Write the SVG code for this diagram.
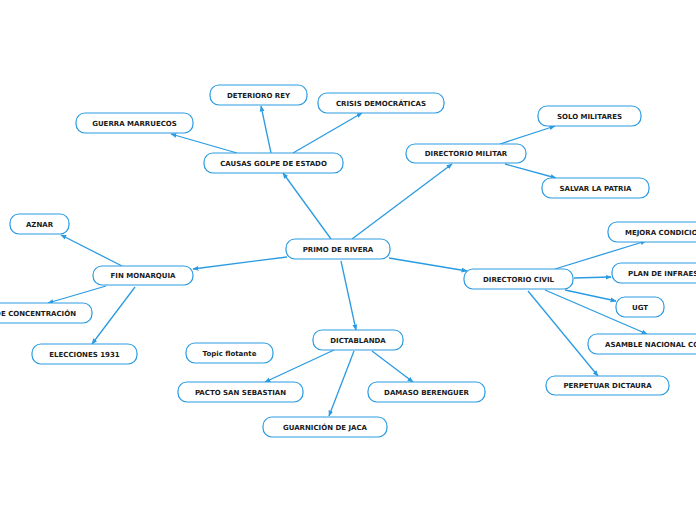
<svg xmlns="http://www.w3.org/2000/svg" width="696" height="520" viewBox="0 0 696 520">
<style>
.n rect{fill:#fff;stroke:#2a9be2;stroke-width:1.2}
.n text{font-family:"DejaVu Sans",Verdana,sans-serif;font-weight:bold;font-size:7px;fill:#1a1a1a;text-anchor:middle}
.c line{stroke:#2a9be2;stroke-width:1.3;marker-end:url(#a)}
</style>
<defs>
<marker id="a" viewBox="0 0 10 10" refX="9" refY="5" markerWidth="6" markerHeight="6" orient="auto" markerUnits="userSpaceOnUse"><path d="M0,1 L10,5 L0,9 z" fill="#2a9be2"/></marker>
</defs>
<rect width="696" height="520" fill="#fff"/>
<g class="c">
<line x1="331" y1="239" x2="283" y2="173"/>
<line x1="352" y1="239" x2="452" y2="164"/>
<line x1="287" y1="257" x2="193" y2="269"/>
<line x1="389" y1="258" x2="467" y2="271"/>
<line x1="341" y1="261" x2="356" y2="330"/>
<line x1="237" y1="153" x2="171" y2="134"/>
<line x1="271" y1="153" x2="261" y2="106"/>
<line x1="293" y1="153" x2="362" y2="113"/>
<line x1="500" y1="144" x2="555" y2="126"/>
<line x1="505" y1="164" x2="556" y2="178"/>
<line x1="555" y1="269" x2="646" y2="241"/>
<line x1="574" y1="278" x2="611" y2="277"/>
<line x1="565" y1="290" x2="616" y2="301"/>
<line x1="545" y1="290" x2="647" y2="334"/>
<line x1="528" y1="291" x2="598" y2="376"/>
<line x1="122" y1="266" x2="61" y2="235"/>
<line x1="106" y1="286" x2="48" y2="303"/>
<line x1="135" y1="287" x2="92" y2="344"/>
<line x1="334" y1="350" x2="265" y2="382"/>
<line x1="354" y1="351" x2="329" y2="416"/>
<line x1="372" y1="351" x2="413" y2="382"/>
</g>
<g id="primo" class="n"><rect x="286" y="239" width="104" height="20" rx="9"/><text x="338" y="251.5">PRIMO DE RIVERA</text></g>
<g id="causas" class="n"><rect x="204" y="153" width="139" height="20" rx="9"/><text x="273.5" y="165.5">CAUSAS GOLPE DE ESTADO</text></g>
<g id="guerra" class="n"><rect x="76" y="113" width="117" height="20" rx="9"/><text x="134.5" y="125.5">GUERRA MARRUECOS</text></g>
<g id="deterioro" class="n"><rect x="210" y="85" width="97" height="20" rx="9"/><text x="258.5" y="97.5">DETERIORO REY</text></g>
<g id="crisis" class="n"><rect x="318" y="93" width="126" height="20" rx="9"/><text x="381" y="105.5">CRISIS DEMOCRÁTICAS</text></g>
<g id="dirmilitar" class="n"><rect x="406" y="144" width="120" height="19" rx="9"/><text x="466" y="156">DIRECTORIO MILITAR</text></g>
<g id="solo" class="n"><rect x="538" y="106" width="103" height="20" rx="9"/><text x="589.5" y="118.5">SOLO MILITARES</text></g>
<g id="salvar" class="n"><rect x="542" y="178" width="107" height="20" rx="9"/><text x="595.5" y="190.5">SALVAR LA PATRIA</text></g>
<g id="dircivil" class="n"><rect x="464" y="269" width="109" height="20" rx="9"/><text x="518.5" y="281.5">DIRECTORIO CIVIL</text></g>
<g id="mejora" class="n"><rect x="608" y="222" width="140" height="20" rx="9"/><text x="625" y="234.5" style="text-anchor:start">MEJORA CONDICIONES LABORALES</text></g>
<g id="plan" class="n"><rect x="612" y="263" width="140" height="20" rx="9"/><text x="628" y="275.5" style="text-anchor:start">PLAN DE INFRAESTRUCTURAS</text></g>
<g id="ugt" class="n"><rect x="616" y="297" width="48" height="20" rx="9"/><text x="640" y="309.5">UGT</text></g>
<g id="asamble" class="n"><rect x="588" y="334" width="160" height="20" rx="9"/><text x="605" y="346.5" style="text-anchor:start">ASAMBLE NACIONAL CONSULTIVA</text></g>
<g id="perpetuar" class="n"><rect x="546" y="376" width="123" height="19" rx="9"/><text x="607.5" y="388">PERPETUAR DICTAURA</text></g>
<g id="aznar" class="n"><rect x="10" y="214" width="59" height="20" rx="9"/><text x="39.5" y="226.5">AZNAR</text></g>
<g id="fin" class="n"><rect x="93" y="266" width="100" height="19" rx="9"/><text x="143" y="278">FIN MONARQUIA</text></g>
<g id="gobierno" class="n"><rect x="-60" y="303" width="152" height="20" rx="9"/><text x="76" y="315.5" style="text-anchor:end">GOBIERNO DE CONCENTRACIÓN</text></g>
<g id="elecciones" class="n"><rect x="32" y="344" width="105" height="20" rx="9"/><text x="84.5" y="356.5">ELECCIONES 1931</text></g>
<g id="dictablanda" class="n"><rect x="313" y="330" width="90" height="20" rx="9"/><text x="358" y="342.5">DICTABLANDA</text></g>
<g id="topic" class="n"><rect x="186" y="343" width="87" height="20" rx="9"/><text x="229.5" y="355.5">Topic flotante</text></g>
<g id="pacto" class="n"><rect x="178" y="382" width="125" height="20" rx="9"/><text x="240.5" y="394.5">PACTO SAN SEBASTIAN</text></g>
<g id="damaso" class="n"><rect x="368" y="382" width="117" height="20" rx="9"/><text x="426.5" y="394.5">DAMASO BERENGUER</text></g>
<g id="guarnicion" class="n"><rect x="263" y="417" width="124" height="20" rx="9"/><text x="325" y="429.5">GUARNICIÓN DE JACA</text></g>
</svg>
